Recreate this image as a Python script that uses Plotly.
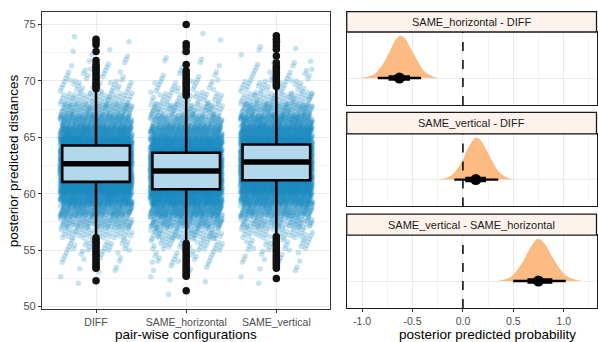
import plotly.graph_objects as go

# ---------------- data: left panel (posterior predicted distances) ----------------
categories = ["DIFF", "SAME_horizontal", "SAME_vertical"]

# counts of jittered draws per 1-unit bin (read from cloud density), starting bin lower edge
diff_bin_start = 52
diff_counts = [2, 6, 12, 25, 50, 100, 190, 330, 480, 600, 640, 590, 470, 330, 200, 110, 55, 28, 14, 7, 4, 2]
sameh_bin_start = 51
sameh_counts = [1, 4, 8, 16, 35, 70, 135, 240, 390, 540, 630, 620, 530, 390, 250, 140, 75, 38, 18, 9, 5, 2, 1, 1]
samev_bin_start = 52
samev_counts = [2, 5, 10, 22, 45, 90, 170, 300, 450, 580, 640, 610, 500, 360, 230, 125, 62, 30, 15, 8, 4, 2]

# box statistics
box_q1 = [61.05, 60.40, 61.19]
box_median = [62.66, 62.02, 62.81]
box_q3 = [64.27, 63.63, 64.36]
box_lowerfence = [56.3, 55.7, 56.4]
box_upperfence = [69.1, 68.5, 69.3]

# outliers
diff_outliers = [69.3, 69.5, 69.7, 69.9, 70.1, 70.3, 70.5, 70.7, 70.9, 71.1, 71.3, 71.5, 71.8, 72.6, 73.2, 73.5, 73.7,
                 56.1, 55.9, 55.7, 55.5, 55.3, 55.1, 54.9, 54.7, 54.5, 54.3, 54.1, 53.9, 53.7, 53.5, 53.4, 52.3]
sameh_outliers = [68.7, 68.9, 69.1, 69.3, 69.5, 69.7, 69.9, 70.1, 70.3, 70.5, 70.7, 70.9, 71.45, 72.6, 73.0, 73.3, 75.0,
                  55.6, 55.4, 55.2, 55.0, 54.8, 54.6, 54.4, 54.2, 54.0, 53.8, 53.6, 53.4, 53.2, 53.0, 52.8, 52.7, 51.4]
samev_outliers = [69.5, 69.7, 69.9, 70.1, 70.3, 70.5, 70.7, 70.9, 71.1, 71.3, 71.6, 72.2, 72.8, 73.1, 73.4, 73.7, 74.0,
                  56.2, 56.0, 55.8, 55.6, 55.4, 55.2, 55.0, 54.8, 54.6, 54.4, 54.2, 54.0, 53.8, 53.6, 53.4, 52.5]

# ---------------- data: right panels (contrasts) ----------------
contrast_labels = ["SAME_horizontal - DIFF", "SAME_vertical - DIFF", "SAME_vertical - SAME_horizontal"]

dens1_x = [-1.06, -0.99, -0.93, -0.87, -0.81, -0.76, -0.71, -0.67, -0.62, -0.58, -0.54, -0.49, -0.44, -0.39, -0.33, -0.27, -0.22]
dens1_y = [0.0, 0.01, 0.04, 0.11, 0.27, 0.47, 0.71, 0.90, 1.0, 0.95, 0.80, 0.58, 0.36, 0.18, 0.07, 0.015, 0.0]
dens2_x = [-0.30, -0.23, -0.17, -0.11, -0.05, 0.00, 0.04, 0.09, 0.13, 0.17, 0.21, 0.26, 0.31, 0.36, 0.42, 0.48, 0.53]
dens2_y = [0.0, 0.01, 0.04, 0.11, 0.27, 0.47, 0.70, 0.90, 1.0, 0.95, 0.80, 0.58, 0.36, 0.18, 0.07, 0.015, 0.0]
dens3_x = [0.29, 0.36, 0.42, 0.48, 0.54, 0.60, 0.65, 0.70, 0.74, 0.78, 0.83, 0.88, 0.94, 1.00, 1.07, 1.15, 1.24]
dens3_y = [0.0, 0.01, 0.04, 0.11, 0.27, 0.48, 0.72, 0.91, 1.0, 0.96, 0.82, 0.60, 0.37, 0.18, 0.07, 0.015, 0.0]

point_est = [-0.63, 0.128, 0.749]
q66_lo = [-0.737, 0.023, 0.64]
q66_hi = [-0.525, 0.228, 0.887]
q95_lo = [-0.845, -0.086, 0.498]
q95_hi = [-0.416, 0.35, 1.02]

# ---------------- styling ----------------
W, H = 598, 342
FONT = "Liberation Sans, Arial, sans-serif"
PT_COLOR = "rgb(27,137,194)"
BOX_FILL = "#B4D8EB"
ORANGE = "#FDBB84"
STRIP_FILL = "#FEF3EC"
BORDER = "#333333"
GRID = "#EBEBEB"
MINOR = "#F4F4F4"
TICKC = "#4D4D4D"

def px_x(p):
    return p / W

def px_y(p):
    return 1 - p / H

fig = go.Figure()

# jittered clouds (base layer)
R2A, R2B = 0.7548776662466927, 0.5698402909980532
JIT = 0.4
clouds = [(diff_bin_start, diff_counts), (sameh_bin_start, sameh_counts), (samev_bin_start, samev_counts)]
for idx, (start, counts) in enumerate(clouds):
    xs, ys = [], []
    k = 0
    for i, c in enumerate(counts):
        lo = start + i
        for _ in range(c):
            k += 1
            u = (0.5 + k * R2A) % 1
            v = (0.5 + k * R2B) % 1
            xs.append(idx + JIT * (2 * u - 1))
            ys.append(lo + v)
    fig.add_trace(go.Scatter(x=xs, y=ys, mode="markers", xaxis="x", yaxis="y",
                             marker=dict(size=5.5, color=PT_COLOR, opacity=0.24, line=dict(width=0)),
                             hoverinfo="skip", showlegend=False))

# boxes (overlay layer so they sit above the cloud)
for idx in range(3):
    fig.add_trace(go.Box(x=[idx], q1=[box_q1[idx]], median=[box_median[idx]], q3=[box_q3[idx]],
                         lowerfence=[box_lowerfence[idx]], upperfence=[box_upperfence[idx]],
                         width=0.75, whiskerwidth=0, boxpoints=False, fillcolor=BOX_FILL,
                         line=dict(color="black", width=2.6), xaxis="x5", yaxis="y5", showlegend=False))
    fig.add_trace(go.Scatter(x=[idx - 0.375, idx + 0.375], y=[box_median[idx]] * 2, mode="lines",
                             line=dict(color="black", width=5.5), xaxis="x5", yaxis="y5",
                             hoverinfo="skip", showlegend=False))

for idx, outl in enumerate([diff_outliers, sameh_outliers, samev_outliers]):
    fig.add_trace(go.Scatter(x=[idx] * len(outl), y=outl, mode="markers",
                             marker=dict(size=7.5, color="#111111"), xaxis="x5", yaxis="y5",
                             hoverinfo="skip", showlegend=False))

# right panels
dens = [(dens1_x, dens1_y), (dens2_x, dens2_y), (dens3_x, dens3_y)]
for i, (dx, dy) in enumerate(dens):
    xa = "x%d" % (i + 2)
    ya = "y%d" % (i + 2)
    fig.add_trace(go.Scatter(x=dx, y=dy, mode="lines", fill="tozeroy", fillcolor=ORANGE,
                             line=dict(width=0, color=ORANGE, shape="spline"), xaxis=xa, yaxis=ya,
                             hoverinfo="skip", showlegend=False))
    fig.add_trace(go.Scatter(x=[q95_lo[i], q95_hi[i]], y=[0, 0], mode="lines",
                             line=dict(color="black", width=2.4), xaxis=xa, yaxis=ya,
                             hoverinfo="skip", showlegend=False))
    fig.add_trace(go.Scatter(x=[q66_lo[i], q66_hi[i]], y=[0, 0], mode="lines",
                             line=dict(color="black", width=5.5), xaxis=xa, yaxis=ya,
                             hoverinfo="skip", showlegend=False))
    fig.add_trace(go.Scatter(x=[point_est[i]], y=[0], mode="markers",
                             marker=dict(color="black", size=11), xaxis=xa, yaxis=ya,
                             hoverinfo="skip", showlegend=False))

tickfont = dict(family=FONT, size=11, color=TICKC)
xtickfont = dict(family=FONT, size=10.5, color=TICKC)
left_xdom = [px_x(42), px_x(331)]
left_ydom = [px_y(311.7), px_y(11.7)]
left_xr = [-0.6, 2.6]
left_yr = [49.79, 76.14]

layout = dict(
    width=W, height=H, margin=dict(l=0, r=0, t=0, b=0),
    paper_bgcolor="white", plot_bgcolor="white", showlegend=False,
    font=dict(family=FONT),
    xaxis=dict(domain=left_xdom, range=left_xr, tickvals=[0, 1, 2], ticktext=categories,
               showgrid=True, gridcolor=GRID, gridwidth=1, zeroline=False,
               showline=True, mirror=True, linecolor=BORDER, linewidth=1.2,
               ticks="outside", ticklen=3, tickcolor=BORDER, tickfont=xtickfont, anchor="y"),
    yaxis=dict(domain=left_ydom, range=left_yr, tickvals=[50, 55, 60, 65, 70, 75],
               showgrid=True, gridcolor=GRID, gridwidth=1, zeroline=False,
               minor=dict(tickvals=[52.5, 57.5, 62.5, 67.5, 72.5], showgrid=True, gridcolor=MINOR, gridwidth=0.6),
               showline=True, mirror=True, linecolor=BORDER, linewidth=1.2,
               ticks="outside", ticklen=3, tickcolor=BORDER, tickfont=tickfont, anchor="x"),
    xaxis5=dict(domain=left_xdom, range=left_xr, overlaying="x", anchor="y5", visible=False),
    yaxis5=dict(domain=left_ydom, range=left_yr, overlaying="y", anchor="x5", visible=False),
)

panel_px = [(32.3, 106.0), (135.0, 208.3), (237.3, 310.7)]
strip_px = [(11.7, 32.3), (113.3, 135.0), (216.0, 237.3)]
rx0, rx1 = px_x(347.3), px_x(597.5)
xr = [-1.1525, (597.5 - 463.7) / 101.0]

shapes = []
annotations = []
for i in range(3):
    top, bot = panel_px[i]
    layout["xaxis%d" % (i + 2)] = dict(
        domain=[rx0, rx1], range=xr, anchor="y%d" % (i + 2),
        tickvals=[-1.0, -0.5, 0.0, 0.5, 1.0], ticktext=["-1.0", "-0.5", "0.0", "0.5", "1.0"],
        showticklabels=(i == 2), ticks="outside" if i == 2 else "", ticklen=3, tickcolor=BORDER,
        showgrid=True, gridcolor=GRID, gridwidth=1, zeroline=False,
        minor=dict(tickvals=[-0.75, -0.25, 0.25, 0.75, 1.25], showgrid=True, gridcolor=MINOR, gridwidth=0.6),
        showline=True, mirror=True, linecolor="#1a1a1a", linewidth=1.3, tickfont=xtickfont)
    layout["yaxis%d" % (i + 2)] = dict(
        domain=[px_y(bot), px_y(top)], range=[-0.638, 1.086], anchor="x%d" % (i + 2),
        tickvals=[0], showticklabels=False, ticks="", showgrid=True, gridcolor=GRID, gridwidth=1,
        zeroline=False, showline=True, mirror=True, linecolor="#1a1a1a", linewidth=1.3)
    shapes.append(dict(type="line", xref="x%d" % (i + 2), yref="y%d domain" % (i + 2),
                       x0=0, x1=0, y0=0, y1=1, line=dict(color="black", width=1.5, dash="dash"), layer="above"))
    st, sb = strip_px[i]
    shapes.append(dict(type="rect", xref="paper", yref="paper", x0=rx0, x1=rx1, y0=px_y(sb), y1=px_y(st),
                       fillcolor=STRIP_FILL, line=dict(color="#1a1a1a", width=1.3)))
    annotations.append(dict(xref="paper", yref="paper", x=(rx0 + rx1) / 2, y=px_y((st + sb) / 2),
                            text=contrast_labels[i], showarrow=False, xanchor="center", yanchor="middle",
                            font=dict(family=FONT, size=11, color="#1a1a1a")))

titlefont = dict(family=FONT, size=13.5, color="black")
annotations.append(dict(xref="paper", yref="paper", x=px_x(13), y=px_y(161.7), text="posterior predicted distances",
                        textangle=-90, showarrow=False, xanchor="center", yanchor="middle", font=titlefont))
annotations.append(dict(xref="paper", yref="paper", x=px_x(186.5), y=px_y(337.6), text="pair-wise configurations",
                        showarrow=False, xanchor="center", yanchor="middle", font=titlefont))
annotations.append(dict(xref="paper", yref="paper", x=px_x(488), y=px_y(337.6), text="posterior predicted probability",
                        showarrow=False, xanchor="center", yanchor="middle", font=titlefont))

layout["shapes"] = shapes
layout["annotations"] = annotations
fig.update_layout(**layout)

fig.write_html("out.html", config={"displayModeBar": False},
               post_script="document.body.style.margin='0';document.body.style.overflow='hidden';")
